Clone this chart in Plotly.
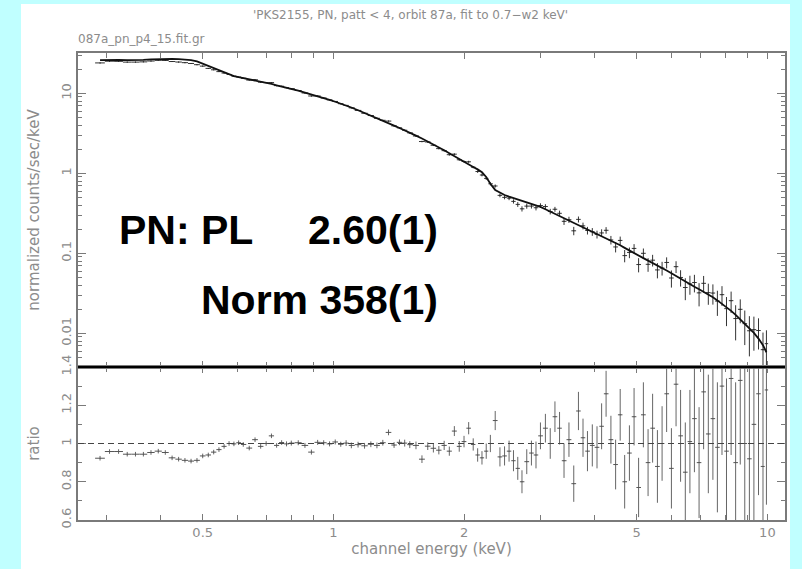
import numpy as np
import plotly.graph_objects as go
from plotly.subplots import make_subplots

# ---------------- data ----------------
energy_kev = [
    0.290, 0.305, 0.320, 0.335, 0.350, 0.365, 0.380, 0.395, 0.410, 0.425,
    0.440, 0.455, 0.470, 0.485, 0.500, 0.515, 0.530, 0.545, 0.560, 0.575,
    0.590, 0.605, 0.620, 0.640, 0.660, 0.680, 0.700, 0.720, 0.740, 0.760,
    0.780, 0.800, 0.830, 0.860, 0.890, 0.920, 0.950, 0.980, 1.010, 1.040,
    1.070, 1.100, 1.140, 1.180, 1.220, 1.260, 1.300, 1.340, 1.380, 1.420,
    1.460, 1.500, 1.550, 1.600, 1.650, 1.700, 1.750, 1.800, 1.850, 1.900,
    1.950, 2.000, 2.050, 2.100, 2.150, 2.200, 2.250, 2.300, 2.360, 2.420,
    2.480, 2.540, 2.600, 2.660, 2.720, 2.790, 2.860, 2.930, 3.000, 3.080,
    3.160, 3.240, 3.320, 3.400, 3.490, 3.580, 3.670, 3.760, 3.850, 3.950,
    4.050, 4.150, 4.250, 4.360, 4.470, 4.580, 4.690, 4.810, 4.930, 5.050,
    5.180, 5.310, 5.440, 5.580, 5.720, 5.860, 6.010, 6.160, 6.310, 6.470,
    6.630, 6.790, 6.960, 7.130, 7.310, 7.490, 7.670, 7.860, 8.050, 8.250,
    8.450, 8.660, 8.870, 9.090, 9.310, 9.540, 9.770, 9.950,
]

# folded power-law model, counts/sec/keV
model_rate = [
    26.0, 26.3, 26.2, 26.0, 26.0, 26.2, 26.6, 26.9, 27.0, 27.0,
    26.8, 26.5, 26.0, 25.0, 23.4, 21.8, 20.6, 19.3, 18.2, 17.2,
    16.4, 15.9, 15.5, 15.0, 14.5, 14.0, 13.6, 13.1, 12.6, 12.2,
    11.8, 11.4, 10.8, 10.2, 9.7, 9.2, 8.7, 8.3, 7.85, 7.45,
    7.05, 6.65, 6.15, 5.70, 5.30, 4.92, 4.58, 4.25, 3.95, 3.68,
    3.45, 3.22, 2.96, 2.72, 2.50, 2.30, 2.11, 1.94, 1.78, 1.63,
    1.50, 1.39, 1.29, 1.20, 1.12, 1.03, 0.90, 0.74, 0.62, 0.57,
    0.535, 0.51, 0.49, 0.47, 0.45, 0.43, 0.41, 0.395, 0.38, 0.356,
    0.333, 0.312, 0.293, 0.276, 0.258, 0.242, 0.227, 0.214, 0.201, 0.188,
    0.176, 0.165, 0.154, 0.144, 0.135, 0.126, 0.117, 0.108, 0.101, 0.094,
    0.087, 0.081, 0.076, 0.0705, 0.0655, 0.061, 0.0565, 0.052, 0.048, 0.044,
    0.041, 0.0382, 0.0356, 0.0332, 0.0307, 0.0282, 0.0258, 0.0234, 0.0212, 0.0191,
    0.0170, 0.0150, 0.0132, 0.0117, 0.0101, 0.0086, 0.0071, 0.0058,
]

# data / model ratio and its 1-sigma error
ratio = [
    0.923, 0.958, 0.958, 0.944, 0.944, 0.944, 0.953, 0.960, 0.953, 0.925,
    0.918, 0.912, 0.908, 0.912, 0.935, 0.940, 0.955, 0.968, 0.985, 1.000,
    0.998, 1.004, 0.995, 0.976, 1.020, 0.985, 1.000, 1.040, 0.990, 1.005,
    0.998, 1.002, 1.004, 0.990, 0.955, 1.006, 1.004, 0.998, 1.008, 0.996,
    1.002, 0.990, 0.994, 0.988, 0.996, 0.990, 1.004, 1.058, 0.992, 1.006,
    1.002, 0.994, 0.990, 0.918, 0.986, 0.975, 0.965, 0.990, 0.960, 1.065,
    0.985, 1.010, 1.080, 0.995, 0.940, 0.925, 0.960, 1.000, 1.120, 0.930,
    0.935, 0.960, 0.910, 0.870, 0.800, 0.905, 0.950, 0.940, 1.040, 1.080,
    1.000, 1.140, 1.080, 0.910, 1.020, 0.790, 1.170, 1.030, 0.960, 0.990,
    0.980, 1.090, 1.260, 1.020, 0.890, 1.150, 0.800, 0.950, 1.140, 0.770,
    1.150, 0.900, 1.080, 0.880, 1.000, 1.260, 0.870, 1.310, 1.040, 0.850,
    1.010, 1.130, 0.900, 1.270, 1.050, 1.130, 0.980, 1.300, 0.960, 1.340,
    0.900, 1.330, 1.000, 0.920, 1.100, 1.260, 0.880, 1.280,
]

ratio_err = [
    0.012, 0.012, 0.012, 0.012, 0.012, 0.012, 0.012, 0.012, 0.012, 0.012,
    0.012, 0.012, 0.012, 0.012, 0.012, 0.012, 0.012, 0.012, 0.012, 0.012,
    0.012, 0.012, 0.012, 0.012, 0.012, 0.012, 0.012, 0.012, 0.012, 0.012,
    0.013, 0.013, 0.013, 0.013, 0.013, 0.013, 0.013, 0.013, 0.013, 0.013,
    0.015, 0.015, 0.015, 0.015, 0.015, 0.015, 0.015, 0.015, 0.015, 0.015,
    0.018, 0.018, 0.020, 0.020, 0.020, 0.022, 0.022, 0.024, 0.024, 0.026,
    0.028, 0.030, 0.032, 0.032, 0.035, 0.035, 0.040, 0.045, 0.050, 0.050,
    0.050, 0.055, 0.055, 0.060, 0.060, 0.065, 0.065, 0.070, 0.070, 0.075,
    0.080, 0.080, 0.085, 0.090, 0.090, 0.095, 0.100, 0.100, 0.105, 0.110,
    0.110, 0.120, 0.120, 0.125, 0.130, 0.135, 0.140, 0.145, 0.150, 0.155,
    0.170, 0.175, 0.180, 0.190, 0.195, 0.200, 0.210, 0.220, 0.240, 0.260,
    0.270, 0.280, 0.290, 0.300, 0.310, 0.320, 0.340, 0.360, 0.380, 0.400,
    0.420, 0.440, 0.460, 0.480, 0.500, 0.530, 0.560, 0.600,
]

x_tick_vals = [0.5, 1, 2, 5, 10]
x_tick_text = ["0.5", "1", "2", "5", "10"]
y_top_tick_vals = [0.01, 0.1, 1, 10]
y_top_tick_text = ["0.01", "0.1", "1", "10"]
y_bot_tick_vals = [0.6, 0.8, 1.0, 1.2, 1.4]
y_bot_tick_text = ["0.6", "0.8", "1", "1.2", "1.4"]

title_text = "'PKS2155, PN, patt < 4, orbit 87a, fit to 0.7\u2212w2 keV'"
subtitle_text = "087a_pn_p4_15.fit.gr"
fit_label_1 = "PN: PL"
fit_value_1 = "2.60(1)"
fit_label_2 = "Norm 358(1)"

# ---------------- derived quantities ----------------
E = np.array(energy_kev)
M = np.array(model_rate)
R = np.array(ratio)
RE = np.array(ratio_err)
counts = M * R
counts_err = M * RE
gaps = np.diff(E) / 2.0
hw_lo = np.concatenate([[gaps[0]], gaps])
hw_hi = np.concatenate([gaps, [gaps[-1]]])

# ---------------- figure ----------------
W, H = 802, 569
L, Rm, T, B = 78, 17, 53, 49
plot_w = W - L - Rm
plot_h = H - T - B
split = (520 - 367) / plot_h

CYAN = "#c0ffff"
AX_GRAY = "#7a7a7a"
TXT_GRAY = "#8c8c8c"
FONT = "DejaVu Sans"

fig = make_subplots(rows=2, cols=1, shared_xaxes=True, vertical_spacing=0,
                    row_heights=[1 - split, split])

fig.add_trace(go.Scatter(
    x=E, y=counts, mode="markers",
    marker=dict(size=1, color="#222"),
    error_x=dict(type="data", symmetric=False, array=hw_hi, arrayminus=hw_lo,
                 width=0, thickness=1, color="#333"),
    error_y=dict(type="data", array=counts_err, width=0, thickness=1, color="#333"),
    showlegend=False, hoverinfo="skip"), row=1, col=1)

fig.add_trace(go.Scatter(
    x=E, y=M, mode="lines", line=dict(color="#111", width=1.8),
    showlegend=False, hoverinfo="skip"), row=1, col=1)

fig.add_trace(go.Scatter(
    x=E, y=R, mode="markers",
    marker=dict(size=1, color="#555"),
    error_x=dict(type="data", symmetric=False, array=hw_hi, arrayminus=hw_lo,
                 width=0, thickness=1, color="#555"),
    error_y=dict(type="data", array=RE, width=0, thickness=1, color="#666"),
    showlegend=False, hoverinfo="skip"), row=2, col=1)

fig.add_hline(y=1, row=2, col=1, line=dict(color="#444", width=1, dash="6px,4px"))

def px_x(p):
    return (p - L) / plot_w

def px_y(p):
    return (H - B - p) / plot_h

# white page behind the plot
fig.add_shape(type="rect", xref="paper", yref="paper",
              x0=px_x(21), x1=px_x(790), y0=px_y(575), y1=px_y(4),
              fillcolor="white", line=dict(width=0), layer="below")
# thick separator between the panels
fig.add_shape(type="line", xref="paper", yref="paper", x0=0, x1=1,
              y0=split, y1=split, line=dict(color="black", width=2.2))

common_x = dict(type="log", range=[np.log10(0.258), np.log10(10.98)],
                tickmode="array", tickvals=x_tick_vals, ticktext=x_tick_text,
                ticks="inside", ticklen=6, tickcolor=AX_GRAY, tickwidth=1,
                minor=dict(ticks="inside", ticklen=5, tickcolor=AX_GRAY, dtick="D1"),
                showline=True, linecolor=AX_GRAY, linewidth=1.5, mirror="allticks",
                showgrid=False, zeroline=False, automargin=False,
                tickfont=dict(family=FONT, size=13, color=TXT_GRAY))
fig.update_xaxes(**common_x)
fig.update_xaxes(showticklabels=False, row=1, col=1)
fig.update_xaxes(title=dict(text="channel energy (keV)", standoff=4,
                            font=dict(family=FONT, size=15, color=TXT_GRAY)),
                 row=2, col=1)

fig.update_yaxes(type="log", range=[-2.421, 1.504], row=1, col=1,
                 tickmode="array", tickvals=y_top_tick_vals, ticktext=y_top_tick_text,
                 ticks="inside", ticklen=8, tickcolor=AX_GRAY,
                 minor=dict(ticks="inside", ticklen=4, tickcolor=AX_GRAY, dtick="D1"),
                 showline=True, linecolor=AX_GRAY, linewidth=1.5, mirror="allticks",
                 showgrid=False, zeroline=False, tickangle=-90, automargin=False,
                 tickfont=dict(family=FONT, size=13, color=TXT_GRAY),
                 title=dict(text="normalized counts/sec/keV", standoff=16,
                            font=dict(family=FONT, size=15, color=TXT_GRAY)))
fig.update_yaxes(range=[0.6, 1.4], row=2, col=1,
                 tickmode="array", tickvals=y_bot_tick_vals, ticktext=y_bot_tick_text,
                 ticks="inside", ticklen=8, tickcolor=AX_GRAY,
                 minor=dict(ticks="inside", ticklen=4, tickcolor=AX_GRAY, dtick=0.1),
                 showline=True, linecolor=AX_GRAY, linewidth=1.5, mirror="allticks",
                 showgrid=False, zeroline=False, tickangle=-90, automargin=False,
                 tickfont=dict(family=FONT, size=13, color=TXT_GRAY),
                 title=dict(text="ratio", standoff=16,
                            font=dict(family=FONT, size=15, color=TXT_GRAY)))

big = dict(family="Liberation Sans, Arial", size=41, color="black")
fig.add_annotation(text="<b>%s</b>" % fit_label_1, xref="paper", yref="paper",
                   x=px_x(117), y=px_y(230), xanchor="left", yanchor="middle",
                   showarrow=False, font=big)
fig.add_annotation(text="<b>%s</b>" % fit_value_1, xref="paper", yref="paper",
                   x=px_x(440), y=px_y(230), xanchor="right", yanchor="middle",
                   showarrow=False, font=big)
fig.add_annotation(text="<b>%s</b>" % fit_label_2, xref="paper", yref="paper",
                   x=px_x(440), y=px_y(300), xanchor="right", yanchor="middle",
                   showarrow=False, font=big)
fig.add_annotation(text=title_text, xref="paper", yref="paper",
                   x=px_x(410), y=px_y(15), xanchor="center", yanchor="middle",
                   showarrow=False, font=dict(family=FONT, size=12, color=TXT_GRAY))
fig.add_annotation(text=subtitle_text, xref="paper", yref="paper",
                   x=px_x(76), y=px_y(39), xanchor="left", yanchor="middle",
                   showarrow=False, font=dict(family=FONT, size=12, color=TXT_GRAY))

fig.update_layout(width=W, height=H, margin=dict(l=L, r=Rm, t=T, b=B),
                  paper_bgcolor=CYAN, plot_bgcolor="white", showlegend=False)

fig.write_html("out.html", config={"displayModeBar": False},
               post_script="document.body.style.margin='0';"
                           "document.body.style.background='%s';" % CYAN)
